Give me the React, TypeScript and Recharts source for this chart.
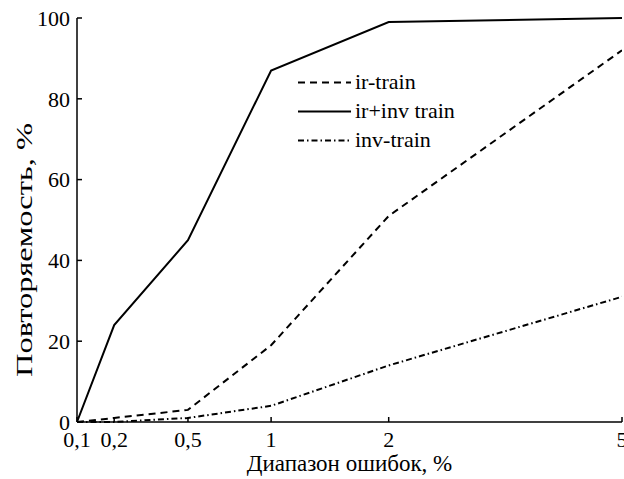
import { LineChart, Line, XAxis, YAxis, Legend } from "recharts";

// значения ошибки, %
const errorRange = [0.1, 0.2, 0.5, 1, 2, 5];
// повторяемость, %
const irTrain = [0, 1, 3, 19, 51, 92];
const irInvTrain = [0, 24, 45, 87, 99, 100];
const invTrain = [0, 0, 1, 4, 14, 31];
const yTicks = [0, 20, 40, 60, 80, 100];

const series = [
  { key: "irTrain", name: "ir-train", dash: "7 5" },
  { key: "irInvTrain", name: "ir+inv train", dash: undefined },
  { key: "invTrain", name: "inv-train", dash: "6 3 1.5 3" },
];

const data = errorRange.map((x, i) => ({
  x,
  irTrain: irTrain[i],
  irInvTrain: irInvTrain[i],
  invTrain: invTrain[i],
}));

const font = "Liberation Serif, Times New Roman, serif";
const textStyle = { fontFamily: font };
const axisStroke = { stroke: "#000", strokeWidth: 1.5 };

const renderLegend = () => (
  <svg width={170} height={88} style={{ display: "block" }}>
    {series.map((s, i) => {
      const y = 14.5 + i * 29;
      return (
        <g key={s.key}>
          <line
            x1={0}
            x2={53}
            y1={y}
            y2={y}
            stroke="#000"
            strokeWidth={2}
            strokeDasharray={s.dash}
          />
          <text x={57} y={y} dy={6} style={textStyle} fontSize={22} fill="#000">
            {s.name}
          </text>
        </g>
      );
    })}
  </svg>
);

export default function App() {
  return (
    <div
      style={{ position: "absolute", left: 0, top: 0, background: "#fff", fontFamily: font }}
    >
      <LineChart
        width={624}
        height={479}
        data={data}
        margin={{ top: 18, right: 2, bottom: 0, left: 0 }}
        style={textStyle}
      >
        <XAxis
          dataKey="x"
          type="number"
          scale="sqrt"
          domain={[0.1, 5]}
          ticks={errorRange}
          interval={0}
          allowDataOverflow
          height={57}
          tickSize={-5}
          tickMargin={14}
          axisLine={axisStroke}
          tickLine={axisStroke}
          tick={{ fill: "#000", fontSize: 22, style: textStyle }}
          tickFormatter={(v) => String(v).replace(".", ",")}
          label={{
            content: (props: any) => {
              const vb = props.viewBox;
              return (
                <text
                  x={vb.x + vb.width / 2}
                  y={vb.y + 49}
                  textAnchor="middle"
                  style={textStyle}
                  fontSize={23}
                  fill="#000"
                >
                  Диапазон ошибок, %
                </text>
              );
            },
          }}
        />
        <XAxis
          xAxisId="top"
          orientation="top"
          dataKey="x"
          type="number"
          scale="sqrt"
          domain={[0.1, 5]}
          ticks={errorRange}
          interval={0}
          allowDataOverflow
          height={0}
          tickSize={-5}
          tick={false}
          axisLine={axisStroke}
          tickLine={axisStroke}
        />
        <YAxis
          type="number"
          domain={[0, 100]}
          ticks={yTicks}
          interval={0}
          width={77}
          tickSize={-5}
          tickMargin={12}
          axisLine={axisStroke}
          tickLine={axisStroke}
          tick={{ fill: "#000", fontSize: 22, style: textStyle }}
          label={{
            content: () => (
              <text
                x={24}
                y={250}
                transform="rotate(-90, 24, 250)"
                textAnchor="middle"
                dominantBaseline="central"
                style={textStyle}
                fontSize={23}
                textLength={254}
                lengthAdjust="spacingAndGlyphs"
                fill="#000"
              >
                Повторяемость, %
              </text>
            ),
          }}
        />
        <YAxis
          yAxisId="right"
          orientation="right"
          type="number"
          domain={[0, 100]}
          ticks={yTicks}
          interval={0}
          width={0}
          tickSize={-5}
          tick={false}
          axisLine={axisStroke}
          tickLine={axisStroke}
        />
        <Legend
          layout="vertical"
          align="center"
          verticalAlign="middle"
          content={renderLegend}
          wrapperStyle={{ left: 298, top: 68, width: 170, height: 88 }}
        />
        {series.map((s) => (
          <Line
            key={s.key}
            type="linear"
            dataKey={s.key}
            name={s.name}
            stroke="#000"
            strokeWidth={2}
            strokeDasharray={s.dash}
            dot={false}
            activeDot={false}
            isAnimationActive={false}
          />
        ))}
      </LineChart>
    </div>
  );
}
